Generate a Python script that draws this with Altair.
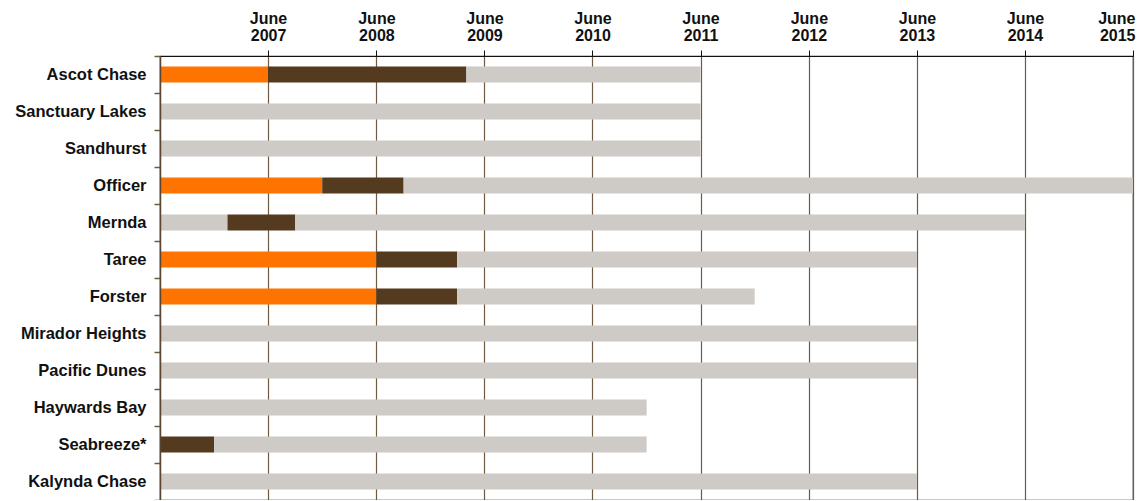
import altair as alt
import pandas as pd

projects = ["Ascot Chase", "Sanctuary Lakes", "Sandhurst", "Officer", "Mernda", "Taree",
            "Forster", "Mirador Heights", "Pacific Dunes", "Haywards Bay", "Seabreeze*", "Kalynda Chase"]

# segment starts/ends per project (phase: A = orange, B = dark brown, C = grey)
seg_project = ["Ascot Chase", "Ascot Chase", "Ascot Chase",
               "Sanctuary Lakes", "Sandhurst",
               "Officer", "Officer", "Officer",
               "Mernda", "Mernda", "Mernda",
               "Taree", "Taree", "Taree",
               "Forster", "Forster", "Forster",
               "Mirador Heights", "Pacific Dunes", "Haywards Bay",
               "Seabreeze*", "Seabreeze*", "Kalynda Chase"]
seg_phase = ["A", "B", "C",
             "C", "C",
             "A", "B", "C",
             "C", "B", "C",
             "A", "B", "C",
             "A", "B", "C",
             "C", "C", "C",
             "B", "C", "C"]
seg_start = ["2006-06-01", "2007-06-01", "2009-04-01",
             "2006-06-01", "2006-06-01",
             "2006-06-01", "2007-12-01", "2008-09-01",
             "2006-06-01", "2007-01-15", "2007-09-01",
             "2006-06-01", "2008-06-01", "2009-03-01",
             "2006-06-01", "2008-06-01", "2009-03-01",
             "2006-06-01", "2006-06-01", "2006-06-01",
             "2006-06-01", "2006-12-01", "2006-06-01"]
seg_end = ["2007-06-01", "2009-04-01", "2011-06-01",
           "2011-06-01", "2011-06-01",
           "2007-12-01", "2008-09-01", "2015-06-01",
           "2007-01-15", "2007-09-01", "2014-06-01",
           "2008-06-01", "2009-03-01", "2013-06-01",
           "2008-06-01", "2009-03-01", "2011-12-01",
           "2013-06-01", "2013-06-01", "2010-12-01",
           "2006-12-01", "2010-12-01", "2013-06-01"]

tick_years = [2007, 2008, 2009, 2010, 2011, 2012, 2013, 2014, 2015]

df = pd.DataFrame({"project": seg_project, "phase": seg_phase,
                   "start": seg_start, "end": seg_end})

FONT = "Liberation Sans"

chart = alt.Chart(df).mark_bar(cornerRadius=0, height=alt.RelativeBandSize(0.43)).encode(
    x=alt.X("start:T", title=None,
            scale=alt.Scale(type="utc", domain=["2006-06-01", "2015-06-01"], nice=False),
            axis=alt.Axis(orient="top",
                          values=[alt.DateTime(year=y, month=6, date=1, utc=True) for y in tick_years],
                          labelExpr="['June', utcFormat(datum.value, '%Y')]",
                          labelFont=FONT, labelFontSize=16, labelFontWeight="bold", labelColor="#111",
                          labelLineHeight=17, labelPadding=24, labelFlush=True, labelFlushOffset=2,
                          tickSize=6, tickColor="#111", domainColor="#111",
                          grid=True, gridColor="#6f5a44", gridWidth=1.2)),
    x2="end:T",
    y=alt.Y("project:N", sort=projects, title=None,
            scale=alt.Scale(paddingInner=0, paddingOuter=0),
            axis=alt.Axis(orient="left", tickBand="extent", tickSize=6, tickColor="#6f5a44",
                          tickWidth=1.5, domainColor="#5a4630", domainWidth=1.5, zindex=1,
                          labelFont=FONT, labelFontSize=16.5, labelFontWeight="bold", labelColor="#111",
                          labelPadding=8)),
    color=alt.Color("phase:N", legend=None,
                    scale=alt.Scale(domain=["A", "B", "C"], range=["#ff7400", "#543a1e", "#cecac5"])),
).properties(
    width=973, height=444,
    autosize=alt.AutoSizeParams(type="none"),
    padding={"left": 152, "top": 48, "right": 3, "bottom": 0},
).configure_view(stroke="#222", strokeWidth=1.2)

chart.save("out.html", embed_options={"renderer": "svg", "actions": False})
